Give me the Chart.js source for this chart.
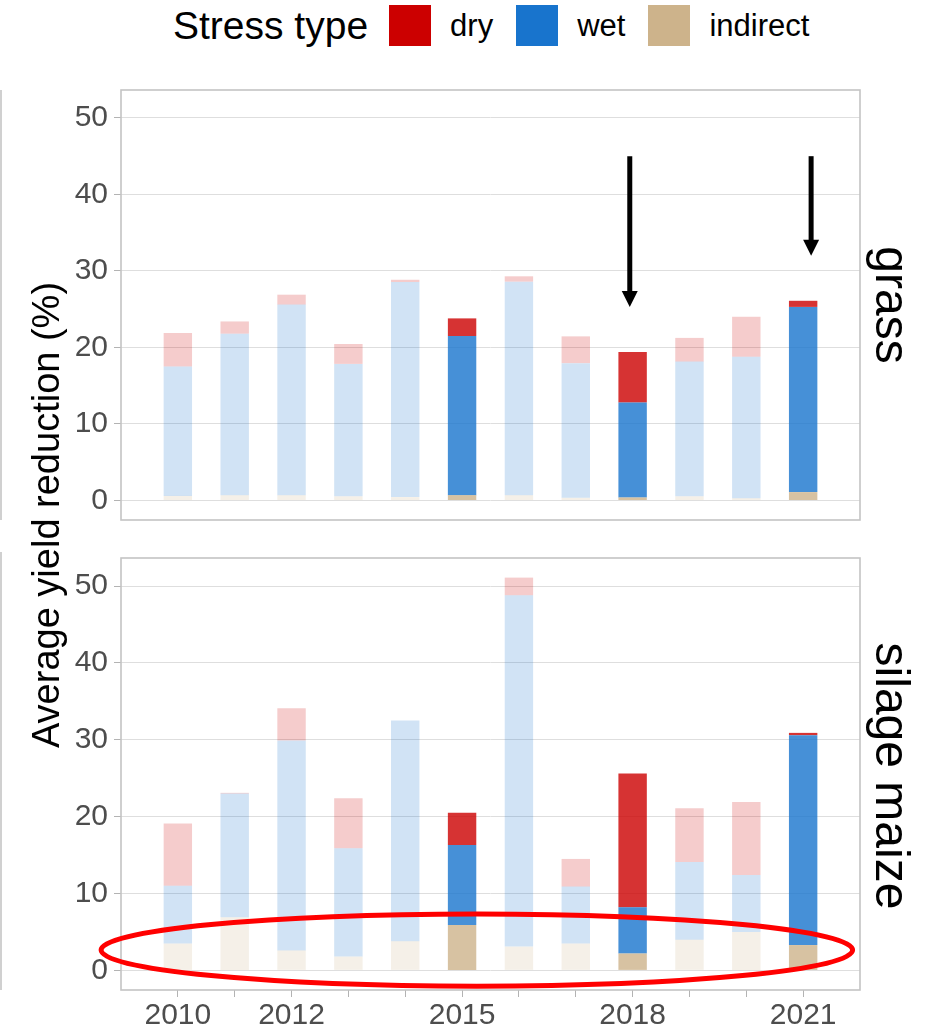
<!DOCTYPE html>
<html lang="en">
<head>
<meta charset="UTF-8">
<title>Average yield reduction by stress type</title>
<script src="https://cdn.jsdelivr.net/npm/chart.js"></script>
<style>
    body { margin: 0; background: #fff; font-family: 'Liberation Sans', Arial, sans-serif; }
    .page { position: relative; width: 925px; height: 1032px; overflow: hidden; background: #fff; }
    .legend { position: absolute; left: 173px; top: 5px; height: 41px; display: flex; align-items: center; color: #000; }
    .legend .title { font-size: 39px; margin-right: 21px; }
    .legend .key { width: 42px; height: 41px; margin-right: 19px; }
    .legend .lbl { font-size: 31px; margin-right: 23px; }
    canvas { position: absolute; left: 0; }
    #grassChart { top: 80px; }
    #maizeChart { top: 548px; }
    .ytitle { position: absolute; width: 600px; height: 44px; line-height: 44px; left: -254px; top: 493px;
              text-align: center; font-size: 38px; color: #000; transform: rotate(-90deg); }
    .strip { position: absolute; width: 300px; height: 56px; line-height: 56px; left: 742px;
             text-align: center; font-size: 48px; color: #000; transform: rotate(90deg); }
    .edge { position: absolute; left: 0; width: 2px; background: #d0d0d0; }
</style>
</head>
<body>
<div class="page">
    <div class="legend" id="legend"><span class="title">Stress type</span></div>
    <div class="edge" style="top:90px;height:430px"></div>
    <div class="edge" style="top:552px;height:438px"></div>
    <canvas id="grassChart" width="925" height="450"></canvas>
    <canvas id="maizeChart" width="925" height="484"></canvas>
    <div class="ytitle">Average yield reduction (%)</div>
    <div class="strip" style="top:277px">grass</div>
    <div class="strip" style="top:748px">silage maize</div>
</div>

<script>
    // data
    const years = [2010, 2011, 2012, 2013, 2014, 2015, 2016, 2017, 2018, 2019, 2020, 2021];
    const highlightYears = [2015, 2018, 2021];
    const labelledYears = [2010, 2012, 2015, 2018, 2021];
    const yTickValues = [0, 10, 20, 30, 40, 50];
    const stressTypes = ['dry', 'wet', 'indirect'];
    const stressColors = ['#CC0000', '#1874CD', '#CDB38B'];

    const grassIndirect = [0.6, 0.7, 0.7, 0.55, 0.45, 0.7, 0.7, 0.35, 0.4, 0.55, 0.3, 1.1];
    const grassWet      = [16.9, 21.1, 24.9, 17.3, 28.1, 20.8, 27.9, 17.6, 12.4, 17.6, 18.5, 24.2];
    const grassDry      = [4.4, 1.6, 1.3, 2.6, 0.3, 2.3, 0.7, 3.5, 6.6, 3.1, 5.2, 0.8];

    const maizeIndirect = [3.5, 6.9, 2.6, 1.8, 3.8, 5.9, 3.1, 3.5, 2.2, 4.0, 5.0, 3.3];
    const maizeWet      = [7.5, 16.1, 27.3, 14.1, 28.7, 10.4, 45.7, 7.4, 6.0, 10.1, 7.4, 27.3];
    const maizeDry      = [8.1, 0.1, 4.2, 6.5, 0.0, 4.2, 2.3, 3.6, 17.4, 7.0, 9.5, 0.3];

    // annotations (in data units)
    const arrowYears = [2017.95, 2021.14];
    const arrowFrom = [45, 45];
    const arrowTo = [25.3, 32.0];
    const ellipseCenter = [2015.26, 2.65];
    const ellipseRadius = [6.61, 4.7];

    const FONT = "'Liberation Sans', Arial, sans-serif";
    Chart.defaults.font.family = FONT;

    // legend
    const legend = document.getElementById('legend');
    stressTypes.forEach((name, i) => {
        const key = document.createElement('span');
        key.className = 'key';
        key.style.background = stressColors[i];
        const lbl = document.createElement('span');
        lbl.className = 'lbl';
        lbl.textContent = name;
        legend.appendChild(key);
        legend.appendChild(lbl);
    });

    function rgba(hex, a) {
        const n = parseInt(hex.slice(1), 16);
        return `rgba(${(n >> 16) & 255}, ${(n >> 8) & 255}, ${n & 255}, ${a})`;
    }

    function dataset(type, values) {
        const base = stressColors[stressTypes.indexOf(type)];
        return {
            label: type,
            data: years.map((yr, i) => ({ x: yr, y: values[i] })),
            backgroundColor: years.map(yr => rgba(base, highlightYears.includes(yr) ? 0.8 : 0.2)),
            borderWidth: 0,
            barPercentage: 0.5,
            categoryPercentage: 1
        };
    }

    const panelBorder = {
        id: 'panelBorder',
        afterDraw(chart) {
            const { ctx, chartArea: a } = chart;
            ctx.save();
            ctx.strokeStyle = '#c4c4c4';
            ctx.lineWidth = 1.6;
            ctx.strokeRect(a.left, a.top, a.right - a.left, a.bottom - a.top);
            ctx.restore();
        }
    };

    const arrows = {
        id: 'arrows',
        afterDraw(chart) {
            const { ctx, scales: { x, y } } = chart;
            ctx.save();
            ctx.strokeStyle = '#000';
            ctx.fillStyle = '#000';
            ctx.lineWidth = 5;
            arrowYears.forEach((yr, i) => {
                const px = x.getPixelForValue(yr);
                const top = y.getPixelForValue(arrowFrom[i]);
                const tip = y.getPixelForValue(arrowTo[i]);
                ctx.beginPath();
                ctx.moveTo(px, top);
                ctx.lineTo(px, tip - 12);
                ctx.stroke();
                ctx.beginPath();
                ctx.moveTo(px - 8, tip - 16);
                ctx.lineTo(px + 8, tip - 16);
                ctx.lineTo(px, tip);
                ctx.closePath();
                ctx.fill();
            });
            ctx.restore();
        }
    };

    const ellipse = {
        id: 'ellipse',
        afterDraw(chart) {
            const { ctx, scales: { x, y } } = chart;
            const cx = x.getPixelForValue(ellipseCenter[0]);
            const cy = y.getPixelForValue(ellipseCenter[1]);
            const rx = x.getPixelForValue(ellipseCenter[0] + ellipseRadius[0]) - cx;
            const ry = cy - y.getPixelForValue(ellipseCenter[1] + ellipseRadius[1]);
            ctx.save();
            ctx.strokeStyle = '#ff0000';
            ctx.lineWidth = 5;
            ctx.beginPath();
            ctx.ellipse(cx, cy, rx, ry, 0, 0, Math.PI * 2);
            ctx.stroke();
            ctx.restore();
        }
    };

    function makeChart(id, indirect, wet, dry, showX, extra) {
        return new Chart(document.getElementById(id), {
            type: 'bar',
            data: { datasets: [dataset('indirect', indirect), dataset('wet', wet), dataset('dry', dry)] },
            options: {
                responsive: false,
                animation: false,
                layout: { padding: { top: 10, right: 65, bottom: showX ? 0 : 10, left: 0 } },
                plugins: { legend: { display: false }, tooltip: { enabled: false } },
                scales: {
                    x: {
                        type: 'linear',
                        display: showX,
                        stacked: true,
                        min: 2009,
                        max: 2022,
                        offset: false,
                        afterBuildTicks: s => { s.ticks = years.map(v => ({ value: v })); },
                        afterFit: s => {
                            s.height = showX ? 42 : 0;
                            s.paddingLeft = 0;
                            s.paddingRight = 0;
                        },
                        ticks: {
                            autoSkip: false,
                            maxRotation: 0,
                            padding: 1,
                            color: '#4d4d4d',
                            font: { size: 30 },
                            callback: v => labelledYears.includes(v) ? String(v) : ''
                        },
                        grid: { drawOnChartArea: false, offset: false, tickLength: 7, tickColor: '#b3b3b3' },
                        border: { display: false }
                    },
                    y: {
                        stacked: true,
                        min: -2.55,
                        max: 53.65,
                        afterBuildTicks: s => { s.ticks = yTickValues.map(v => ({ value: v })); },
                        afterFit: s => {
                            s.width = 121;
                            s.paddingTop = 0;
                            s.paddingBottom = 0;
                        },
                        ticks: { color: '#4d4d4d', font: { size: 30 }, padding: 6 },
                        grid: { color: '#dedede', lineWidth: 1, tickLength: 7, tickColor: '#b3b3b3' },
                        border: { display: false }
                    }
                }
            },
            plugins: [panelBorder, extra]
        });
    }

    makeChart('grassChart', grassIndirect, grassWet, grassDry, false, arrows);
    makeChart('maizeChart', maizeIndirect, maizeWet, maizeDry, true, ellipse);
</script>
</body>
</html>
